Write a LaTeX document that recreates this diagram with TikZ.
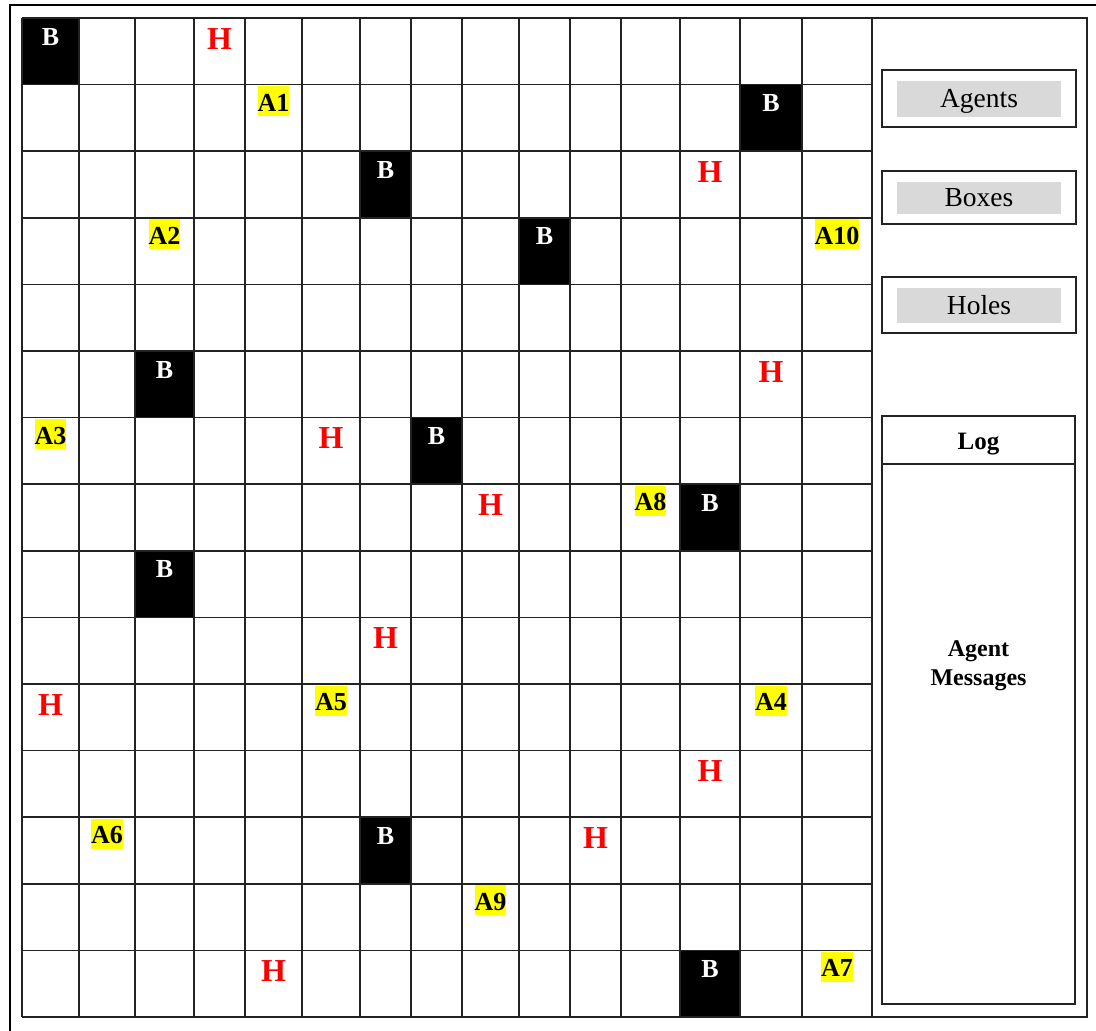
\documentclass[tikz,border=0pt]{standalone}
\usepackage{fontspec}
\setmainfont{Liberation Serif}
\usepackage{xcolor}
\usepackage{tikz}
\usetikzlibrary{calc}
\definecolor{panelgray}{RGB}{217,217,217}
\definecolor{gridline}{RGB}{35,35,35}
\definecolor{holered}{RGB}{255,0,0}
\definecolor{agentyellow}{RGB}{255,255,0}
\tikzset{
  gridrule/.style={draw=gridline, line width=1.5pt},
  framerule/.style={draw=black, line width=2.6pt},
  boxcell/.style={fill=black},
  boxlabel/.style={text=white, font=\fontsize{26}{30}\selectfont\bfseries, inner sep=0pt, anchor=base},
  holelabel/.style={text=holered, font=\fontsize{32}{36}\selectfont\bfseries, inner sep=0pt, anchor=base},
  agentlabel/.style={fill=agentyellow, text=black, font=\fontsize{26}{30}\selectfont\bfseries, inner sep=0pt, text height=25pt, text depth=5pt, anchor=base},
  legendbox/.style={draw=gridline, line width=1.5pt, minimum width=194pt, inner sep=0pt},
  legendtag/.style={fill=panelgray, minimum width=164pt, inner sep=0pt, text height=18pt, text depth=0pt, font=\fontsize{27.5}{32}\selectfont},
  logtitle/.style={font=\fontsize{25}{29}\selectfont\bfseries, inner sep=0pt, text height=17pt, text depth=0pt},
  logtext/.style={font=\fontsize{24}{29}\selectfont\bfseries, align=center, inner sep=0pt}
}

\begin{document}
\begin{tikzpicture}[x=1pt,y=-1pt]
  \useasboundingbox (0,0) rectangle (1096,1031);
  % outer frame (cropped)
  \draw[framerule] (10,1040) -- (10,5) -- (1100,5);

  % grid boundaries
  \foreach \x [count=\i from 0] in {22,79,135,194,245,302,360,411,462,519,570,621,680,740,802,872}
    \coordinate (gx\i) at (\x,18);
  \foreach \j in {0,...,15}
    \coordinate (gy\j) at (22,{18+66.6*\j});
  \foreach \c [evaluate=\c as \cn using int(\c+1)] in {0,...,14}
    \foreach \r in {0,...,14}
      \coordinate (cell-\c-\r) at ($(gx\c |- gy\r)!0.5!(gx\cn |- gy\r)$);

  % boxes
  \foreach \c/\r [evaluate=\c as \cn using int(\c+1), evaluate=\r as \rn using int(\r+1)]
      in {0/0,13/1,6/2,9/3,2/5,7/6,12/7,2/8,6/12,12/14}
    \fill[boxcell] (gx\c |- gy\r) rectangle (gx\cn |- gy\rn);

  % grid lines
  \foreach \i in {0,...,15}
    \draw[gridrule] (gx\i |- gy0) -- (gx\i |- gy15);
  \foreach \j in {0,...,15}
    \draw[gridrule] (gx0 |- gy\j) -- (gx15 |- gy\j);

  % cell labels
  \foreach \c/\r [count=\k] in {0/0,13/1,6/2,9/3,2/5,7/6,12/7,2/8,6/12,12/14}
    \node[boxlabel] (box\k) at ([yshift=-27pt]cell-\c-\r) {B};
  \foreach \c/\r [count=\k] in {3/0,12/2,13/5,5/6,8/7,6/9,0/10,12/11,10/12,4/14}
    \node[holelabel] (hole\k) at ([yshift=-31pt]cell-\c-\r) {H};
  \foreach \c/\r/\name in {4/1/A1,2/3/A2,0/6/A3,13/10/A4,5/10/A5,1/12/A6,14/14/A7,11/7/A8,8/13/A9,14/3/A10}
    \node[agentlabel] (\name) at ([yshift=-26.5pt]cell-\c-\r) {\name};

  % side panel
  \coordinate (panelse) at (1087,1017);
  \draw[gridrule] (gx15 |- gy0) rectangle (panelse);
  \node[legendbox, minimum height=57pt] (agentsbox) at (979,98.5) {};
  \node[legendtag, minimum height=36pt] (agentstag) at (agentsbox) {Agents};
  \node[legendbox, minimum height=53pt] (boxesbox) at (979,197.5) {};
  \node[legendtag, minimum height=32pt] (boxestag) at (boxesbox) {Boxes};
  \node[legendbox, minimum height=56pt] (holesbox) at (979,305) {};
  \node[legendtag, minimum height=35pt] (holestag) at (holesbox) {Holes};

  % log
  \coordinate (lognw) at (882,416);
  \coordinate (logse) at (1075,1004);
  \coordinate (logsplit) at (882,464);
  \draw[gridrule] (lognw) rectangle (logse);
  \draw[gridrule] (logsplit) -- (logsplit -| logse);
  \node[logtitle] (logtitle) at (978.5,441) {Log};
  \node[logtext] (logmsg) at (978.5,666) {Agent\\Messages};
\end{tikzpicture}
\end{document}
